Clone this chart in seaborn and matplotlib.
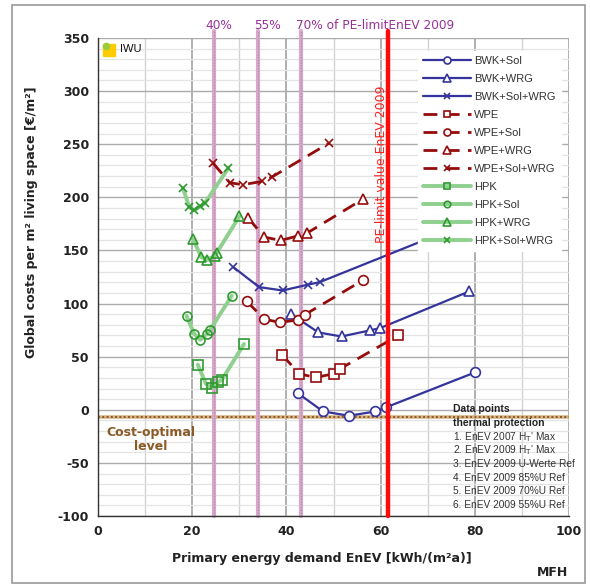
import matplotlib
matplotlib.use("Agg")
import matplotlib.pyplot as plt
import numpy as np
import pandas as pd
import seaborn as sns
from matplotlib.patches import Rectangle
from matplotlib.ticker import MultipleLocator

sns.set_theme(style="white")
plt.rcParams['font.family'] = ['DejaVu Sans']
plt.rcParams['axes.unicode_minus'] = False

# ---- data: primary energy demand (x) vs. global costs (y) per system variant ----
bwk_sol_x = [42.4, 47.8, 53.3, 58.9, 61.1, 80.0]
bwk_sol_y = [15.7, -1.6, -5.6, -1.6, 2.2, 35.1]
bwk_wrg_x = [41.0, 46.8, 51.7, 57.7, 59.9, 78.8]
bwk_wrg_y = [90.1, 72.8, 69.0, 74.7, 76.9, 111.4]
bwk_sol_wrg_x = [28.7, 34.2, 39.2, 44.5, 47.1, 79.0]
bwk_sol_wrg_y = [134.4, 115.5, 112.3, 117.7, 120.2, 177.0]

wpe_x = [39.1, 42.7, 46.2, 50.0, 51.4, 63.8]
wpe_y = [51.8, 33.9, 30.4, 33.9, 38.6, 70.0]
wpe_sol_x = [31.6, 35.3, 38.6, 42.5, 43.9, 56.2]
wpe_sol_y = [102.0, 85.4, 82.2, 84.7, 89.5, 121.8]
wpe_wrg_x = [31.9, 35.3, 38.8, 42.5, 44.4, 56.3]
wpe_wrg_y = [180.5, 162.6, 159.4, 163.8, 166.4, 198.4]
wpe_sol_wrg_x = [24.4, 28.0, 30.8, 34.8, 36.9, 49.1]
wpe_sol_wrg_y = [232.3, 213.7, 211.9, 215.0, 219.1, 251.1]

hpk_x = [21.2, 22.9, 24.1, 25.5, 26.3, 31.0]
hpk_y = [42.4, 24.5, 20.4, 26.1, 28.2, 61.9]
hpk_sol_x = [18.8, 20.4, 21.7, 23.2, 23.8, 28.4]
hpk_sol_y = [88.5, 71.6, 65.9, 71.6, 75.3, 107.3]
hpk_wrg_x = [20.2, 21.9, 23.2, 24.8, 25.2, 30.0]
hpk_wrg_y = [160.7, 143.8, 141.2, 145.0, 147.6, 182.0]
hpk_sol_wrg_x = [18.0, 19.4, 20.4, 21.7, 22.7, 27.7]
hpk_sol_wrg_y = [208.8, 190.9, 187.7, 191.4, 194.6, 227.6]

series_labels = ["BWK+Sol", "BWK+WRG", "BWK+Sol+WRG",
                 "WPE", "WPE+Sol", "WPE+WRG", "WPE+Sol+WRG",
                 "HPK", "HPK+Sol", "HPK+WRG", "HPK+Sol+WRG"]
series_x = [bwk_sol_x, bwk_wrg_x, bwk_sol_wrg_x,
            wpe_x, wpe_sol_x, wpe_wrg_x, wpe_sol_wrg_x,
            hpk_x, hpk_sol_x, hpk_wrg_x, hpk_sol_wrg_x]
series_y = [bwk_sol_y, bwk_wrg_y, bwk_sol_wrg_y,
            wpe_y, wpe_sol_y, wpe_wrg_y, wpe_sol_wrg_y,
            hpk_y, hpk_sol_y, hpk_wrg_y, hpk_sol_wrg_y]

pe_limit = 61.6                     # PE limit value EnEV 2009
pe_fractions = [0.40, 0.55, 0.70]
cost_optimal = -6.5

thermal_header = ["Data points", "thermal protection"]
thermal_lines = ["1. EnEV 2007 H$_\\mathrm{T}$' Max",
                 "2. EnEV 2009 H$_\\mathrm{T}$' Max",
                 "3. EnEV 2009 U-Werte Ref",
                 "4. EnEV 2009 85%U Ref",
                 "5. EnEV 2009 70%U Ref",
                 "6. EnEV 2009 55%U Ref"]

rows = []
for lab, xs, ys in zip(series_labels, series_x, series_y):
    for i, (xv, yv) in enumerate(zip(xs, ys)):
        rows.append({"series": lab, "point": i, "x": xv, "y": yv})
df = pd.DataFrame(rows)

# ---- styles ----
BLUE = "#34349c"
RED = "#950c0c"
GREEN_LINE = "#8fd08f"
GREEN_MARK = "#2f9a2f"
dash = (0, (5, 3))

styles = {
    "BWK+Sol": dict(color=BLUE, lw=1.6, ls="-", marker="o", mec=BLUE, mfc="white", ms=7),
    "BWK+WRG": dict(color=BLUE, lw=1.6, ls="-", marker="^", mec=BLUE, mfc="white", ms=7.5),
    "BWK+Sol+WRG": dict(color=BLUE, lw=1.6, ls="-", marker="x", mec=BLUE, mfc=BLUE, ms=6),
    "WPE": dict(color=RED, lw=2.0, ls=dash, marker="s", mec=RED, mfc="white", ms=6.5),
    "WPE+Sol": dict(color=RED, lw=2.0, ls=dash, marker="o", mec=RED, mfc="white", ms=7),
    "WPE+WRG": dict(color=RED, lw=2.0, ls=dash, marker="^", mec=RED, mfc="white", ms=7.5),
    "WPE+Sol+WRG": dict(color=RED, lw=2.0, ls=dash, marker="x", mec=RED, mfc=RED, ms=5.5),
    "HPK": dict(color=GREEN_LINE, lw=2.8, ls="-", marker="s", mec=GREEN_MARK, mfc="none", ms=6.5),
    "HPK+Sol": dict(color=GREEN_LINE, lw=2.8, ls="-", marker="o", mec=GREEN_MARK, mfc="none", ms=6.5),
    "HPK+WRG": dict(color=GREEN_LINE, lw=2.8, ls="-", marker="^", mec=GREEN_MARK, mfc="none", ms=7.5),
    "HPK+Sol+WRG": dict(color=GREEN_LINE, lw=2.8, ls="-", marker="x", mec=GREEN_MARK, mfc=GREEN_MARK, ms=6),
}

fig = plt.figure(figsize=(5.90, 5.87), dpi=100)
ax = fig.add_axes([98 / 590, 1 - 516 / 587, 471 / 590, 478 / 587])
ax.set_facecolor("white")

ax.set_xlim(0, 100)
ax.set_ylim(-100, 350)

# grid
ax.xaxis.set_major_locator(MultipleLocator(20))
ax.xaxis.set_minor_locator(MultipleLocator(10))
ax.yaxis.set_major_locator(MultipleLocator(50))
ax.yaxis.set_minor_locator(MultipleLocator(10))
ax.grid(which="minor", axis="y", color="#e4e4e4", lw=0.9)
ax.grid(which="major", axis="y", color="#ababab", lw=1.0)
ax.grid(which="minor", axis="x", color="#d2d2d2", lw=1.0)
ax.grid(which="major", axis="x", color="#9a9a9a", lw=1.1)
ax.set_axisbelow(True)

# cost-optimal level
ax.axhline(cost_optimal, color="#d8b487", lw=2.6, zorder=1.5)
ax.axhline(cost_optimal, color="#8a5a26", lw=1.4, ls=(0, (1, 1.2)), zorder=1.6)

# fractions of the PE limit and the limit itself
for f in pe_fractions:
    ax.axvline(pe_limit * f, ymin=0, ymax=1.015, color="#d6a8c9", lw=3.0,
               clip_on=False, zorder=1.7)
    ax.axvline(pe_limit * f, ymin=0, ymax=1.015, color="#bb80ab", lw=0.8,
               ls=(0, (1, 1.5)), clip_on=False, zorder=1.8)
ax.axvline(pe_limit, ymin=0, ymax=1.015, color="#ff0a0a", lw=3.2,
           clip_on=False, zorder=4)

# series
for lab in series_labels:
    st = styles[lab]
    sub = df[df["series"] == lab]
    sns.lineplot(data=sub, x="x", y="y", ax=ax, sort=False, estimator=None,
                 errorbar=None, label=lab, color=st["color"], lw=st["lw"],
                 linestyle=st["ls"], marker=st["marker"], markersize=st["ms"],
                 markeredgecolor=st["mec"], markerfacecolor=st["mfc"],
                 markeredgewidth=1.2, zorder=3)

# axes and ticks
for s in ["top", "right"]:
    ax.spines[s].set_visible(False)
for s in ["left", "bottom"]:
    ax.spines[s].set_color("#333333")
    ax.spines[s].set_linewidth(1.0)
ax.tick_params(axis="both", which="major", direction="inout", length=7,
               width=1, color="#333333", labelsize=9, labelcolor="#222222", pad=3)
ax.tick_params(axis="y", which="minor", direction="out", length=3, width=1,
               color="#333333")
ax.tick_params(axis="x", which="minor", length=0)
for t in ax.get_xticklabels() + ax.get_yticklabels():
    t.set_fontweight("bold")

ax.set_xlabel("Primary energy demand EnEV [kWh/(m²a)]", fontsize=9,
              fontweight="bold", color="#222222")
ax.set_ylabel("Global costs per m² living space [€/m²]", fontsize=9,
              fontweight="bold", color="#222222")
ax.xaxis.set_label_coords(0.476, -0.075)
ax.yaxis.set_label_coords(-0.127, 0.615)

# annotations
top_y = 362
ax.text(22.7, top_y, "40%", color="#97329a", fontsize=8.7, va="center", ha="left", clip_on=False)
ax.text(33.1, top_y, "55%", color="#97329a", fontsize=8.7, va="center", ha="left", clip_on=False)
ax.text(42.0, top_y, "70% of PE-limitEnEV 2009", color="#97329a", fontsize=8.7,
        va="center", ha="left", clip_on=False)

ax.text(60.2, 157, "PE-limit value EnEV 2009", color="#ff2020", fontsize=9,
        rotation=90, ha="center", va="bottom", zorder=5)

ax.text(11.2, -28, "Cost-optimal\nlevel", color="#8b5a26", fontsize=9,
        fontweight="bold", ha="center", va="center", linespacing=1.15)

ax.plot([2.4], [339], marker="s", ms=8, color="#ffcc00", mec="#ffcc00", zorder=5)
ax.plot([1.6], [342], marker="o", ms=4.5, color="#9ccc3a", mec="#9ccc3a", zorder=6)
ax.text(4.6, 339.5, "IWU", fontsize=8, family="Liberation Sans", va="center",
        ha="left", color="#111111")

y0 = 1.0
step_head = 13.2
step = 12.8
for i, line in enumerate(thermal_header):
    ax.text(75.4, y0 - i * step_head, line, fontsize=7.5, fontweight="bold",
            family="Liberation Sans", color="#222222", va="center", ha="left")
for i, line in enumerate(thermal_lines):
    ax.text(75.4, y0 - 2 * step_head - i * step, line, fontsize=7.3,
            family="Liberation Sans", color="#333333", va="center", ha="left")

# legend
handles, labels = ax.get_legend_handles_labels()
leg = ax.legend(handles, labels, loc="upper left",
                bbox_to_anchor=(418 / 590, 1 - 51 / 587),
                bbox_transform=fig.transFigure,
                prop={"family": "Liberation Sans", "size": 8},
                handlelength=4.3, handletextpad=0.3, labelspacing=0.72,
                markerscale=0.72, borderpad=0.45, borderaxespad=0,
                frameon=True, fancybox=False,
                facecolor="white", edgecolor="white", framealpha=1.0)
leg.set_zorder(10)
for t in leg.get_texts():
    t.set_color("#333333")

fig.text(553 / 590, 1 - 573 / 587, "MFH", fontsize=9, fontweight="bold",
         ha="center", va="center", color="#222222")

# chart border
fig.patches.append(Rectangle((12 / 590, 4 / 587), 573 / 590, 578 / 587,
                             transform=fig.transFigure, fill=False,
                             edgecolor="#9a9a9a", lw=1.2))

fig.savefig("out.png", dpi=100)
